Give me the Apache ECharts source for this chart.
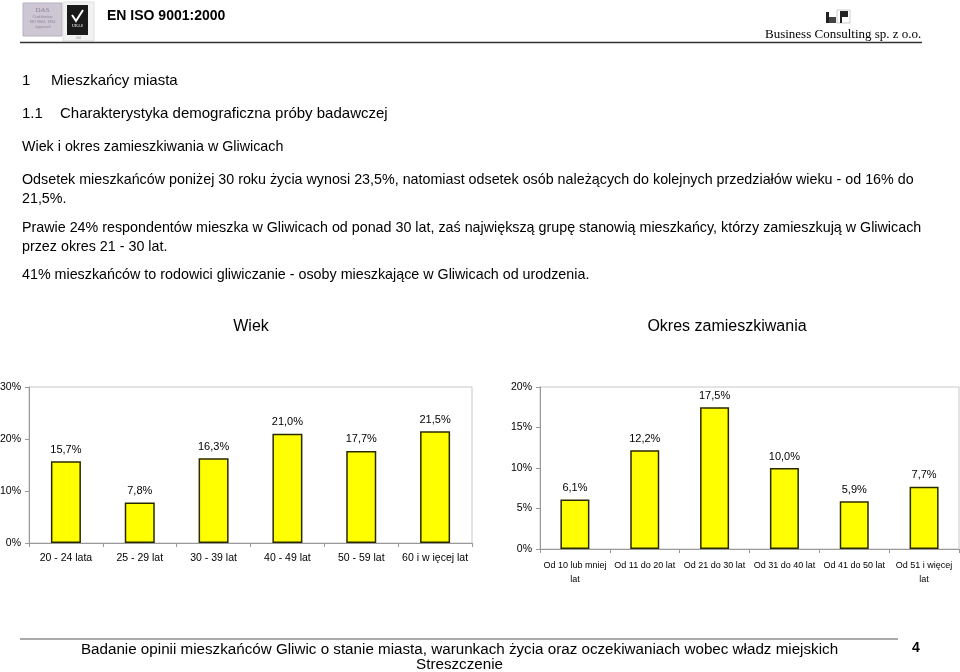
<!DOCTYPE html>
<html><head><meta charset="utf-8">
<script src="https://cdn.jsdelivr.net/npm/echarts@6/dist/echarts.min.js"></script>
<style>html,body{margin:0;padding:0;background:#fff}#c{width:960px;height:672px}</style>
</head><body><div id="c"></div>
<script>
const ageCategories = ['20 - 24 lata', '25 - 29 lat', '30 - 39 lat', '40 - 49 lat', '50 - 59 lat', '60 i w ięcej lat'];
const ageValues = [15.7, 7.8, 16.3, 21.0, 17.7, 21.5];
const stayCategories = ['Od 10 lub mniej\nlat', 'Od 11 do 20 lat', 'Od 21 do 30 lat', 'Od 31 do 40 lat', 'Od 41 do 50 lat', 'Od 51 i więcej\nlat'];
const stayValues = [6.1, 12.2, 17.5, 10.0, 5.9, 7.7];
const chartTitles = ['Wiek', 'Okres zamieszkiwania'];

const FONT = '"Liberation Sans", Arial, sans-serif';
const SERIF = '"Liberation Serif", "Times New Roman", serif';
const fmt = v => v.toFixed(1).replace('.', ',') + '%';

function txt(x, y, s, size, opts) {
  opts = opts || {};
  return { type: 'text', x: x, y: y, silent: true,
    style: { text: s, fontSize: size, fontFamily: opts.family || FONT, fontWeight: opts.weight || 'normal',
      fill: opts.fill || '#000', textAlign: opts.align || 'left', textVerticalAlign: 'middle' } };
}

const BODY = 14.3;
const graphics = [
  // header logos
  { type: 'rect', shape: { x: 23, y: 3, width: 39, height: 33 }, style: { fill: '#cdc6d3', stroke: '#b8b0c0' } },
  txt(42.5, 10, 'DAS', 7, { family: SERIF, align: 'center', fill: '#8a7f95' }),
  txt(42.5, 17, 'Certification', 4, { family: SERIF, align: 'center', fill: '#8a7f95' }),
  txt(42.5, 22, 'ISO 9002: 1994', 4, { family: SERIF, align: 'center', fill: '#8a7f95' }),
  txt(42.5, 27, 'Approved', 4, { family: SERIF, align: 'center', fill: '#8a7f95' }),
  { type: 'rect', shape: { x: 63, y: 2, width: 31, height: 39 }, style: { fill: '#f2f2f2', stroke: '#e0e0e0' } },
  { type: 'rect', shape: { x: 67, y: 5, width: 21, height: 30 }, style: { fill: '#1a1a1a' } },
  { type: 'polyline', shape: { points: [[72, 15], [76, 21], [83, 10]] }, style: { stroke: '#fff', lineWidth: 2, fill: null } },
  txt(77.5, 26, 'UKAS', 4, { family: SERIF, align: 'center', fill: '#fff' }),
  txt(78.5, 38, '054', 3, { align: 'center', fill: '#888' }),
  txt(107, 16, 'EN ISO 9001:2000', 14, { weight: 'bold' }),
  // bp logo
  { type: 'rect', shape: { x: 826, y: 12, width: 3, height: 11 }, style: { fill: '#222' } },
  { type: 'rect', shape: { x: 829, y: 17, width: 7, height: 6 }, style: { fill: '#444' } },
  { type: 'rect', shape: { x: 837, y: 10, width: 13, height: 13 }, style: { fill: '#fff', stroke: '#999', lineWidth: 0.5 } },
  { type: 'rect', shape: { x: 840, y: 11, width: 8, height: 6 }, style: { fill: '#222' } },
  { type: 'rect', shape: { x: 840, y: 11, width: 2, height: 12 }, style: { fill: '#222' } },
  txt(765, 35, 'Business Consulting sp. z o.o.', 13, { family: SERIF }),
  { type: 'line', shape: { x1: 20, y1: 42.5, x2: 922, y2: 42.5 }, style: { stroke: '#333', lineWidth: 1.5 } },
  // document text
  txt(22, 81, '1', 15), txt(51, 81, 'Mieszkańcy miasta', 15),
  txt(22, 114, '1.1', 15), txt(60, 114, 'Charakterystyka demograficzna próby badawczej', 15),
  txt(22, 147, 'Wiek i okres zamieszkiwania w Gliwicach', BODY),
  txt(22, 180, 'Odsetek mieszkańców poniżej 30 roku życia wynosi 23,5%, natomiast odsetek osób należących do kolejnych przedziałów wieku - od 16% do', BODY),
  txt(22, 199, '21,5%.', BODY),
  txt(22, 228, 'Prawie 24% respondentów mieszka w Gliwicach od ponad 30 lat, zaś największą grupę stanowią mieszkańcy, którzy zamieszkują w Gliwicach', BODY),
  txt(22, 247, 'przez okres 21 - 30 lat.', BODY),
  txt(22, 275, '41% mieszkańców to rodowici gliwiczanie - osoby mieszkające w Gliwicach od urodzenia.', BODY),
  // chart titles
  txt(251, 327, chartTitles[0], 16, { align: 'center' }),
  txt(727, 327, chartTitles[1], 16, { align: 'center' }),
  // footer
  { type: 'line', shape: { x1: 20, y1: 639, x2: 898, y2: 639 }, style: { stroke: '#555', lineWidth: 1 } },
  txt(459.5, 650, 'Badanie opinii mieszkańców Gliwic o stanie miasta, warunkach życia oraz oczekiwaniach wobec władz miejskich', 15.2, { align: 'center' }),
  txt(459.5, 665, 'Streszczenie', 15.2, { align: 'center' }),
  txt(916, 648, '4', 14, { align: 'center', weight: 'bold' })
];

const axisLineStyle = { lineStyle: { color: '#999', width: 1 } };

const chart = echarts.init(document.getElementById('c'), null, { renderer: 'canvas' });
chart.setOption({
  animation: false,
  textStyle: { fontFamily: FONT },
  graphic: graphics,
  grid: [
    { left: 29, right: 488, top: 387, bottom: 129, show: true, borderColor: '#c8c8c8', borderWidth: 1, containLabel: false, outerBoundsMode: 'none' },
    { left: 540, right: 1, top: 387, bottom: 123, show: true, borderColor: '#c8c8c8', borderWidth: 1, containLabel: false, outerBoundsMode: 'none' }
  ],
  xAxis: [
    { type: 'category', gridIndex: 0, data: ageCategories,
      axisLine: axisLineStyle, axisTick: { show: true, length: 4, lineStyle: { color: '#999' } },
      axisLabel: { interval: 0, fontSize: 10.5, color: '#000', margin: 10, fontFamily: FONT } },
    { type: 'category', gridIndex: 1, data: stayCategories,
      axisLine: axisLineStyle, axisTick: { show: true, length: 4, lineStyle: { color: '#999' } },
      axisLabel: { interval: 0, fontSize: 9, color: '#000', margin: 10, lineHeight: 14, fontFamily: FONT } }
  ],
  yAxis: [
    { type: 'value', gridIndex: 0, min: 0, max: 30, interval: 10,
      axisLine: { show: true, lineStyle: { color: '#999' } }, axisTick: { show: true, length: 4, lineStyle: { color: '#999' } },
      splitLine: { show: false },
      axisLabel: { formatter: '{value}%', fontSize: 10.5, color: '#000', margin: 8, fontFamily: FONT } },
    { type: 'value', gridIndex: 1, min: 0, max: 20, interval: 5,
      axisLine: { show: true, lineStyle: { color: '#999' } }, axisTick: { show: true, length: 4, lineStyle: { color: '#999' } },
      splitLine: { show: false },
      axisLabel: { formatter: '{value}%', fontSize: 10.5, color: '#000', margin: 8, fontFamily: FONT } }
  ],
  series: [
    { type: 'bar', xAxisIndex: 0, yAxisIndex: 0, data: ageValues, barWidth: 30,
      itemStyle: { color: '#ffff00', borderColor: '#2a2a00', borderWidth: 1.5 },
      label: { show: true, position: 'top', distance: 6, fontSize: 11, color: '#000', formatter: p => fmt(p.value), fontFamily: FONT } },
    { type: 'bar', xAxisIndex: 1, yAxisIndex: 1, data: stayValues, barWidth: 29,
      itemStyle: { color: '#ffff00', borderColor: '#2a2a00', borderWidth: 1.5 },
      label: { show: true, position: 'top', distance: 6, fontSize: 11, color: '#000', formatter: p => fmt(p.value), fontFamily: FONT } }
  ]
});
</script>
</body></html>
